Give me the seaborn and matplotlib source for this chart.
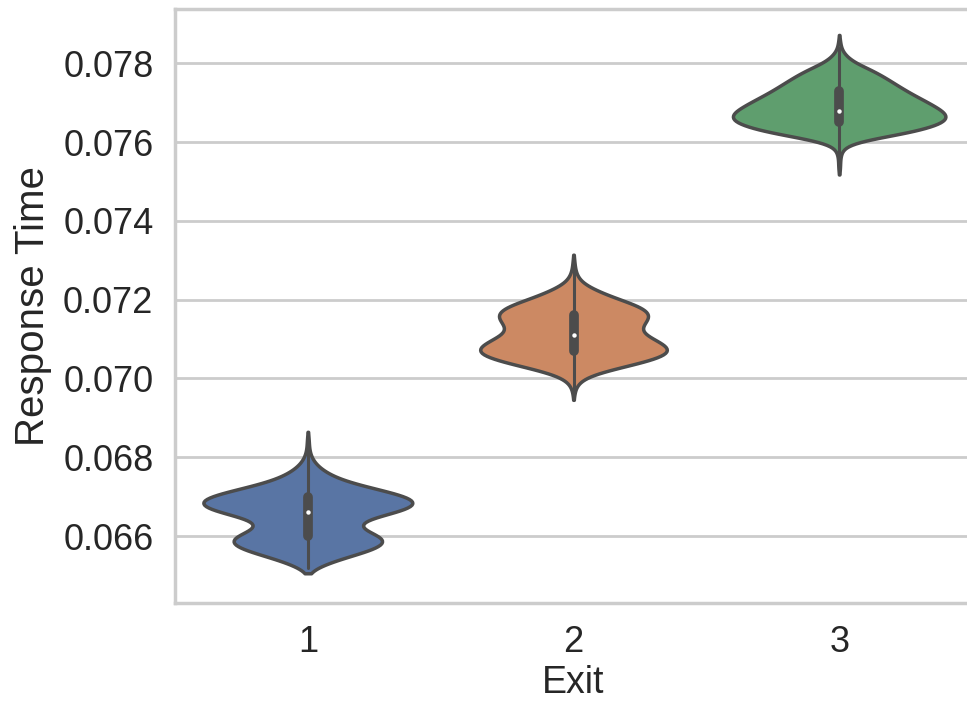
"""
response time per exit, violin plot
"""

import matplotlib

matplotlib.use("Agg")
import matplotlib.pyplot as plt
import numpy as np
import pandas as pd
import seaborn as sns

########
# Data #
########

# response time bins (s) and how many samples fall in each, per exit
exit1_times = [
    0.0652, 0.0653, 0.0654, 0.0655, 0.0656, 0.0657, 0.0658, 0.0659, 0.0660,
    0.0661, 0.0662, 0.0663, 0.0664, 0.0665, 0.0666, 0.0667, 0.0668, 0.0669,
    0.0670, 0.0671, 0.0672, 0.0673, 0.0674, 0.0675, 0.0676, 0.0677, 0.0678,
    0.0679, 0.0680, 0.0681, 0.0682, 0.0683, 0.0684, 0.0685,
]
exit1_counts = [
    8, 17, 27, 40, 55, 66, 73, 76, 70,
    56, 46, 44, 49, 63, 83, 97, 104, 104,
    95, 80, 63, 47, 33, 24, 18, 12, 8,
    5, 3, 2, 1, 1, 1, 1,
]

exit2_times = [
    0.0696, 0.0697, 0.0698, 0.0699, 0.0700, 0.0701, 0.0702, 0.0703,
    0.0704, 0.0705, 0.0706, 0.0707, 0.0708, 0.0709, 0.0710, 0.0711, 0.0712,
    0.0713, 0.0714, 0.0715, 0.0716, 0.0717, 0.0718, 0.0719, 0.0720, 0.0721,
    0.0722, 0.0723, 0.0724, 0.0725, 0.0726, 0.0727, 0.0728, 0.0729, 0.0730,
]
exit2_counts = [
    1, 1, 2, 4, 8, 14, 29, 43,
    59, 73, 82, 87, 84, 76, 71, 61, 57,
    58, 62, 65, 68, 67, 60, 53, 40, 31,
    23, 15, 8, 5, 3, 2, 1, 1, 1,
]

exit3_times = [
    0.0753, 0.0754, 0.0755, 0.0756, 0.0757, 0.0758, 0.0759, 0.0760, 0.0761,
    0.0762, 0.0763, 0.0764, 0.0765, 0.0766, 0.0767, 0.0768, 0.0769, 0.0770,
    0.0771, 0.0772, 0.0773, 0.0774, 0.0775, 0.0776, 0.0777, 0.0778, 0.0779,
    0.0780, 0.0781, 0.0782, 0.0783, 0.0784, 0.0785, 0.0786,
]
exit3_counts = [
    1, 1, 1, 1, 2, 3, 5, 16, 35,
    65, 82, 98, 109, 113, 113, 107, 100, 93,
    85, 77, 70, 63, 57, 50, 44, 36, 28,
    17, 11, 7, 3, 2, 1, 1,
]

exits = ["1", "2", "3"]
yticks = [0.066, 0.068, 0.070, 0.072, 0.074, 0.076, 0.078]

samples = []
for name, times, counts in zip(
    exits,
    (exit1_times, exit2_times, exit3_times),
    (exit1_counts, exit2_counts, exit3_counts),
):
    samples.append(
        pd.DataFrame({"Exit": name, "Response Time": np.repeat(times, counts)})
    )
data = pd.concat(samples, ignore_index=True)

#########
# Plots #
#########

sns.set_theme(style="whitegrid", context="poster")
plt.rcParams["font.family"] = ["Liberation Sans", "DejaVu Sans"]

fig = plt.figure(figsize=(9.67, 7.01), dpi=100)
ax = fig.add_axes([175 / 967, 98 / 701, 797 / 967, 594 / 701])
sns.violinplot(
    data=data,
    x="Exit",
    y="Response Time",
    hue="Exit",
    order=exits,
    hue_order=exits,
    palette="deep",
    legend=False,
    density_norm="count",
    common_norm=True,
    cut=1,
    linewidth=2.5,
    inner_kws={"box_width": 7, "whis_width": 2.2, "marker": "o"},
    ax=ax,
)
# small white median dot
for line in ax.lines:
    if line.get_marker() == "o":
        line.set_markersize(3.2)
        line.set_markeredgewidth(0)
        line.set_markerfacecolor("white")
ax.set_xlim(-0.5, 2.5)
ax.set_ylim(0.0643, 0.07938)
ax.set_yticks(yticks)
ax.tick_params(labelsize=26)
ax.set_xlabel("Exit", fontsize=27)
ax.set_ylabel("Response Time", fontsize=29, labelpad=8)
fig.savefig("out.png", dpi=100)
